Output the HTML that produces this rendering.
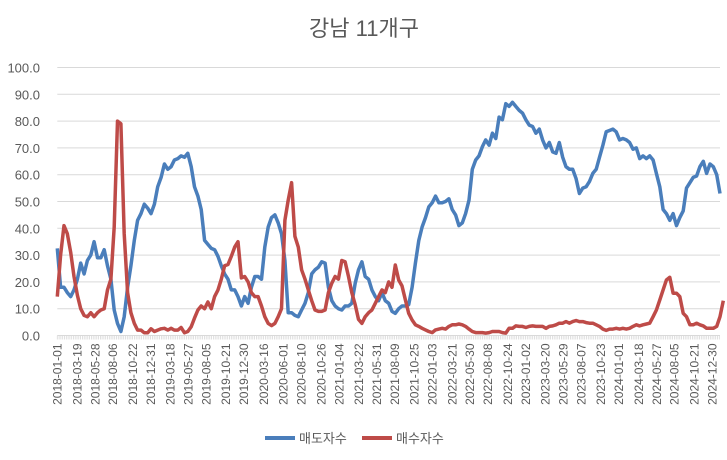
<!DOCTYPE html>
<html><head><meta charset="utf-8">
<style>
body{margin:0;background:#fff;}
svg text{font-family:"Liberation Sans","Noto Sans CJK KR",sans-serif;fill:#595959;}
</style></head>
<body>
<svg id="chart" width="727" height="455" viewBox="0 0 727 455" xmlns="http://www.w3.org/2000/svg">
<text x="364" y="36" font-size="22" text-anchor="middle">강남 11개구</text>
<g id="grid"></g>
<g id="yaxis"></g>
<g id="xaxis"></g>
<g id="series"></g>
<g>
  <line x1="265" y1="438" x2="295" y2="438" stroke="#4a7ebb" stroke-width="4"/>
  <text x="299" y="443" font-size="13">매도자수</text>
  <line x1="362" y1="438" x2="392" y2="438" stroke="#be4b48" stroke-width="4"/>
  <text x="396" y="443" font-size="13">매수자수</text>
</g>
</svg>
<script>
const yTicks=[0,10,20,30,40,50,60,70,80,90,100];
const xTickLabels=["2018-01-01","2018-03-19","2018-05-28","2018-08-06","2018-10-22","2018-12-31","2019-03-18","2019-05-27","2019-08-05","2019-10-21","2019-12-30","2020-03-16","2020-06-01","2020-08-10","2020-10-26","2021-01-04","2021-03-22","2021-05-31","2021-08-09","2021-10-25","2022-01-03","2022-03-21","2022-05-30","2022-08-08","2022-10-24","2023-01-02","2023-03-20","2023-05-29","2023-08-07","2023-10-23","2024-01-01","2024-03-18","2024-05-27","2024-08-05","2024-10-21","2024-12-30"];
const sellers=[32.5,18,18,16,14.5,17,21,27,23,28,30,35,29,29,32,26,21,9.5,4.5,1.5,7,18,26,35.5,43,45.5,49,47.5,45.5,49,55.5,59,64,62,63,65.5,66,67,66.5,68,63,55.5,52,47,35.5,34,32.5,32,29.5,26,23,21,17,17,14.5,11,14.5,12,18,22,22,21,33,40.5,44,45,42,38,28,8.5,8.5,7.5,7,9.5,12,16,23,24.5,25.5,27.5,27,18,13,11,10,9.5,11,11,12,19.5,24.5,27.5,22,21,17,14.5,13,16,13,12,9,
8.3,10,11,11,11.5,18,27,35.5,40.5,44,48,49.5,52,49.5,49.5,50,51,47,45,41,42,45.5,50.5,62,65.5,67,70.5,73,71,75.5,73.5,81.5,80.5,86.5,85.5,87,85.5,84,83,80.5,78.5,78,75.5,77,73,70,72,68.5,68,72,66.5,63,62,62,58.5,53,55,55.5,57.5,60.5,62,66.5,71,76,76.5,77,76,73,73.5,73,72,69.5,70,66,67,66,67,65.5,60.5,55.5,47,45.5,43,45.5,41,44,46.5,55,57,59,59.5,63,65,60.5,64,63,60,53];
const buyers=[14.5,30,41,38,31,22,15,10,7.5,7,8.5,7,8.5,9.5,10,17,21,40.5,80,79,38,16,8.5,4.5,2,2,1,1,2.5,1.5,2,2.5,2.7,2,2.7,2,2,3,1,1.5,3.3,6.5,9.5,11,10,12.5,10,14.5,17,21,26,26.5,29.5,33,35,21.5,22,20,16,14.5,14.5,11,7,4.5,3.7,4.5,7,10,43,50.5,57,37,33,24.5,21,17,13,9.5,9,9,9.5,16,19.5,22,21,28,27.5,22,16,11.5,6,4.5,7,8.5,9.5,12,14.5,17,16,20,18,
26.3,20.7,18.5,13.3,8.3,5.8,4,3.4,2.7,2.1,1.5,1.1,2.1,2.4,2.7,2.4,3.4,4,4,4.3,4,3.4,2.4,1.5,1.1,1.1,1.1,0.9,1.1,1.5,1.5,1.5,1.1,0.9,2.7,2.7,3.6,3.4,3.4,3,3.4,3.6,3.4,3.4,3.4,2.7,3.4,3.6,4,4.6,4.6,5.2,4.6,5.2,5.6,5.2,5.2,4.8,4.6,4.6,4,3.4,2.4,1.9,2.4,2.4,2.7,2.4,2.7,2.4,2.7,3.4,4,3.6,4,4.3,4.6,7,9.5,13.3,17,20.7,21.7,15.8,15.8,14.5,8.3,7,4,4,4.6,4,3.6,2.7,2.7,2.7,3.4,7,13];

const X0=57.3,X1=720,Y0=335.5,Y100=67.5;
const startDate=new Date("2018-01-01");
const WEEK_PX=1.794;
const SAMPLE_PX=(X1-X0)/198;
const NS="http://www.w3.org/2000/svg";
function yScale(v){return Y0-(v/100)*(Y0-Y100);}
function xIndex(i){return X0+i*SAMPLE_PX;}
function xDate(s){const w=(new Date(s)-startDate)/(7*86400000);return X0+w*WEEK_PX;}
function mk(tag,parent){const e=document.createElementNS(NS,tag);parent.appendChild(e);return e;}

const grid=document.getElementById('grid'),yax=document.getElementById('yaxis'),xax=document.getElementById('xaxis'),ser=document.getElementById('series');
yTicks.forEach(t=>{
  const y=yScale(t);
  if(t>0){const l=mk('line',grid);
    
    
    l.setAttribute('x1',X0);l.setAttribute('x2',X1);l.setAttribute('y1',y);l.setAttribute('y2',y);l.setAttribute('stroke','#d9d9d9');l.setAttribute('stroke-width','1');}
  const tx=mk('text',yax);
  
  
  tx.setAttribute('x',40);tx.setAttribute('y',y+5);tx.setAttribute('font-size','13');tx.setAttribute('text-anchor','end');
  tx.textContent=t.toFixed(1);
});
// axis line + dense ticks
const ax=mk('line',xax);


ax.setAttribute('x1',X0);ax.setAttribute('x2',X1);ax.setAttribute('y1',Y0);ax.setAttribute('y2',Y0);ax.setAttribute('stroke','#d9d9d9');
const tk=mk('path',xax);


let d='';for(let x=X0;x<=X1;x+=WEEK_PX){d+='M'+x.toFixed(1)+' '+Y0+'V'+(Y0+4);}
tk.setAttribute('d',d);tk.setAttribute('stroke','#d9d9d9');tk.setAttribute('stroke-width','0.8');
xTickLabels.forEach(s=>{
  const x=xDate(s);
  const t=mk('text',xax);
  
  
  t.setAttribute('font-size','12');t.setAttribute('text-anchor','end');
  t.setAttribute('transform','translate('+(x+4.3)+','+(Y0+8)+') rotate(-90)');
  t.textContent=s;
});
function drawLine(vals,color,name){
  const p=mk('path',ser);
  
  
  p.setAttribute('d',vals.map((v,i)=>(i?'L':'M')+xIndex(i).toFixed(1)+' '+yScale(v).toFixed(1)).join(''));
  p.setAttribute('fill','none');p.setAttribute('stroke',color);p.setAttribute('stroke-width','3.5');p.setAttribute('stroke-linejoin','round');
}
drawLine(sellers,'#4a7ebb','series-sellers');
drawLine(buyers,'#be4b48','series-buyers');
</script>
</body></html>
